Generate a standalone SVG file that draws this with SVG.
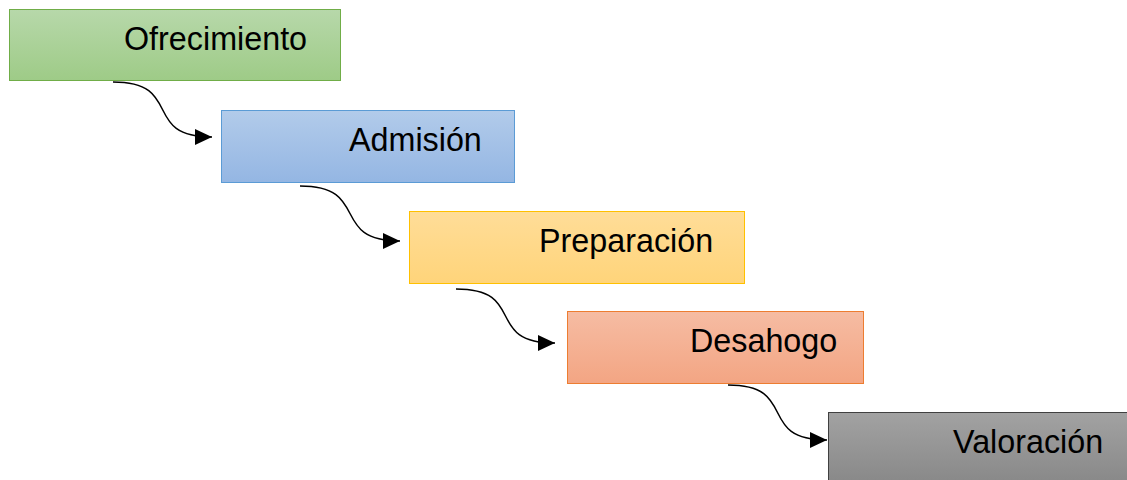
<svg xmlns="http://www.w3.org/2000/svg" width="1127" height="480" viewBox="0 0 1127 480">
<defs>
<linearGradient id="gGreen" x1="0" y1="0" x2="0" y2="1"><stop offset="0" stop-color="#b7d8aa"/><stop offset="1" stop-color="#9ecb87"/></linearGradient>
<linearGradient id="gBlue" x1="0" y1="0" x2="0" y2="1"><stop offset="0" stop-color="#b2cbea"/><stop offset="1" stop-color="#94b6e3"/></linearGradient>
<linearGradient id="gYellow" x1="0" y1="0" x2="0" y2="1"><stop offset="0" stop-color="#ffdd98"/><stop offset="1" stop-color="#ffd47a"/></linearGradient>
<linearGradient id="gOrange" x1="0" y1="0" x2="0" y2="1"><stop offset="0" stop-color="#f6bca3"/><stop offset="1" stop-color="#f3a583"/></linearGradient>
<linearGradient id="gGray" x1="0" y1="0" x2="0" y2="1"><stop offset="0" stop-color="#a2a2a2"/><stop offset="1" stop-color="#858585"/></linearGradient>
<marker id="arrow" markerWidth="18" markerHeight="18" refX="17" refY="9" orient="auto" markerUnits="userSpaceOnUse">
<polygon points="0,1 17,9 0,17" fill="#000"/>
</marker>
</defs>
<style>
.lbl{font-family:"Liberation Sans",Arial,sans-serif;font-size:32.3px;fill:#000}
.conn{fill:none;stroke:#000;stroke-width:1.5;marker-end:url(#arrow)}
</style>
<g id="connectors">
<path class="conn" d="M113,82 C185,82 140,137 212,137"/>
<path class="conn" d="M300,186 C372,186 328,241 400,241"/>
<path class="conn" d="M456,289 C528,289 483,343 555,343"/>
<path class="conn" d="M728,385 C800,385 755,440 827,440"/>
</g>
<g id="node-ofrecimiento">
<rect x="9.5" y="9.5" width="331" height="71" fill="url(#gGreen)" stroke="#70ad47" stroke-width="1"/>
<text class="lbl" x="124" y="50">Ofrecimiento</text>
</g>
<g id="node-admision">
<rect x="221.5" y="110.5" width="293" height="72" fill="url(#gBlue)" stroke="#5b9bd5" stroke-width="1"/>
<text class="lbl" x="349" y="151">Admisión</text>
</g>
<g id="node-preparacion">
<rect x="409.5" y="211.5" width="335" height="72" fill="url(#gYellow)" stroke="#ffc000" stroke-width="1"/>
<text class="lbl" x="539" y="252">Preparación</text>
</g>
<g id="node-desahogo">
<rect x="567.5" y="311.5" width="296" height="72" fill="url(#gOrange)" stroke="#ed7d31" stroke-width="1"/>
<text class="lbl" x="690" y="352">Desahogo</text>
</g>
<g id="node-valoracion">
<rect x="828.5" y="412.5" width="310" height="80" fill="url(#gGray)" stroke="#404040" stroke-width="1"/>
<text class="lbl" x="953" y="453">Valoración</text>
</g>
</svg>
